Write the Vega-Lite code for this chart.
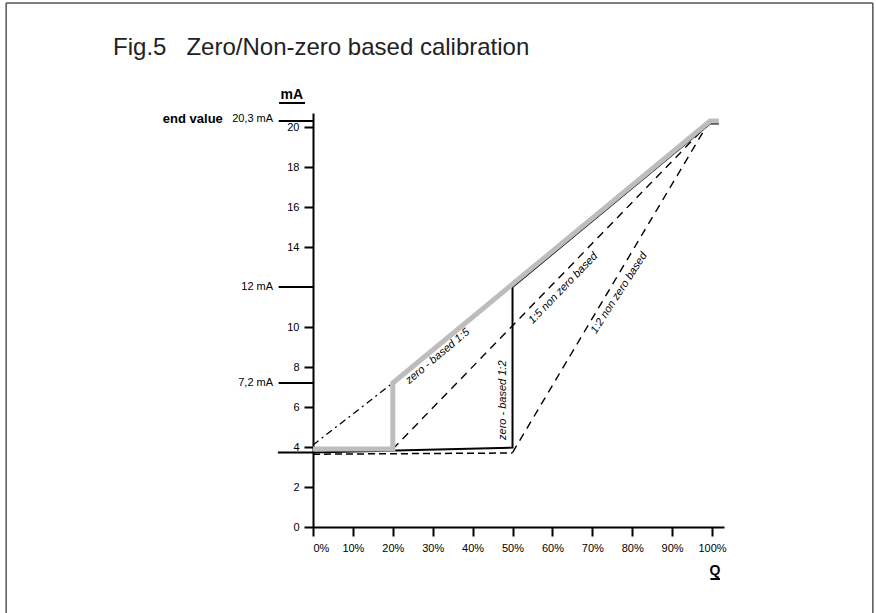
{
  "$schema": "https://vega.github.io/schema/vega-lite/v6.json",
  "width": 411,
  "height": 414,
  "autosize": {"type": "none"},
  "padding": {"left": 313, "top": 113, "right": 152, "bottom": 86},
  "background": "white",
  "config": {
    "view": {"stroke": null},
    "font": "Liberation Sans",
    "axis": {"grid": false, "domainColor": "black", "domainWidth": 2, "tickColor": "black", "tickWidth": 2, "tickSize": 9, "labelColor": "black", "labelFontSize": 11, "labelFont": "Liberation Sans", "title": null}
  },
  "datasets": {
    "lines": [
      {"series": "gray", "o": 1, "x": 0, "y": 3.9},
      {"series": "gray", "o": 2, "x": 20, "y": 3.9},
      {"series": "gray", "o": 3, "x": 20, "y": 7.2},
      {"series": "gray", "o": 4, "x": 99.5, "y": 20.3},
      {"series": "gray", "o": 5, "x": 101.7, "y": 20.3},
      {"series": "black", "o": 1, "x": -8.8, "y": 3.72},
      {"series": "black", "o": 2, "x": 0, "y": 3.72},
      {"series": "black", "o": 3, "x": 50, "y": 3.97},
      {"series": "black", "o": 4, "x": 50, "y": 12},
      {"series": "black", "o": 5, "x": 99.5, "y": 20.18},
      {"series": "black", "o": 6, "x": 101.7, "y": 20.18},
      {"series": "dashdot", "o": 1, "x": 0, "y": 4.1},
      {"series": "dashdot", "o": 2, "x": 20, "y": 7.2},
      {"series": "dash15", "o": 1, "x": 20, "y": 3.9},
      {"series": "dash15", "o": 2, "x": 98.8, "y": 20.1},
      {"series": "dash12", "o": 1, "x": 50, "y": 3.72},
      {"series": "dash12", "o": 2, "x": 98.8, "y": 20.1},
      {"series": "dashbase", "o": 1, "x": 0, "y": 3.64},
      {"series": "dashbase", "o": 2, "x": 50, "y": 3.7}
    ],
    "refs": [
      {"x": -8.6, "x2": 0, "y": 20.3},
      {"x": -8.6, "x2": 0, "y": 12},
      {"x": -8.6, "x2": 0, "y": 7.2},
      {"x": -8.5, "x2": -2.0, "y": 21.2},
      {"x": 99.6, "x2": 102.0, "y": -2.6}
    ],
    "frameH": [
      {"x": -76.9, "x2": 140.3, "y": 26.2}
    ],
    "frameV": [
      {"x": -76.9, "y": 26.2, "y2": -5},
      {"x": 140.3, "y": 26.2, "y2": -5}
    ],
    "ylabels": [
      {"label": "20,3 mA", "x": -10, "y": 20.4},
      {"label": "12 mA", "x": -10, "y": 12},
      {"label": "7,2 mA", "x": -10, "y": 7.2}
    ],
    "bold": [
      {"label": "end value", "x": -22.6, "y": 20.4},
      {"label": "mA", "x": -5.3, "y": 21.6},
      {"label": "Q", "x": 100.75, "y": -2.2}
    ],
    "title": [
      {"label": "Fig.5\u00a0\u00a0\u00a0Zero/Non-zero based calibration", "x": -50.1, "y": 23.6}
    ],
    "ann320": [{"label": "zero - based 1:5", "x": 31.25, "y": 8.53}],
    "ann270": [{"label": "zero - based 1:2", "x": 47.6, "y": 6.34}],
    "ann314": [{"label": "1:5 non zero based", "x": 62.7, "y": 11.93}],
    "ann303": [{"label": "1:2 non zero based", "x": 76.7, "y": 11.7}]
  },
  "layer": [
    {
      "data": {"name": "frameH"},
      "mark": {"type": "rule", "color": "#555", "strokeWidth": 1.5},
      "encoding": {
        "x": {"field": "x", "type": "quantitative", "scale": {"domain": [0, 103], "nice": false, "zero": false}, "axis": {"values": [0, 10, 20, 30, 40, 50, 60, 70, 80, 90, 100], "labelExpr": "datum.value + '%'", "labelPadding": 6}},
        "x2": {"field": "x2"},
        "y": {"field": "y", "type": "quantitative", "scale": {"domain": [0, 20.7], "nice": false, "zero": false}, "axis": {"values": [0, 2, 4, 6, 8, 10, 14, 16, 18, 20], "labelPadding": 5}}
      }
    },
    {
      "data": {"name": "frameV"},
      "mark": {"type": "rule", "color": "#555", "strokeWidth": 1.5},
      "encoding": {
        "x": {"field": "x", "type": "quantitative"},
        "y": {"field": "y", "type": "quantitative"},
        "y2": {"field": "y2"}
      }
    },
    {
      "data": {"name": "lines"},
      "transform": [{"filter": "datum.series === 'dashbase'"}],
      "mark": {"type": "line", "color": "black", "strokeWidth": 1.5, "strokeDash": [7, 4]},
      "encoding": {"x": {"field": "x", "type": "quantitative"}, "y": {"field": "y", "type": "quantitative"}, "order": {"field": "o"}}
    },
    {
      "data": {"name": "lines"},
      "transform": [{"filter": "datum.series === 'dash15' || datum.series === 'dash12'"}],
      "mark": {"type": "line", "color": "black", "strokeWidth": 1.4, "strokeDash": [8, 6]},
      "encoding": {"x": {"field": "x", "type": "quantitative"}, "y": {"field": "y", "type": "quantitative"}, "detail": {"field": "series"}, "order": {"field": "o"}}
    },
    {
      "data": {"name": "lines"},
      "transform": [{"filter": "datum.series === 'dashdot'"}],
      "mark": {"type": "line", "color": "black", "strokeWidth": 1.3, "strokeDash": [7, 4, 2, 4]},
      "encoding": {"x": {"field": "x", "type": "quantitative"}, "y": {"field": "y", "type": "quantitative"}, "order": {"field": "o"}}
    },
    {
      "data": {"name": "lines"},
      "transform": [{"filter": "datum.series === 'black'"}],
      "mark": {"type": "line", "color": "black", "strokeWidth": 2},
      "encoding": {"x": {"field": "x", "type": "quantitative"}, "y": {"field": "y", "type": "quantitative"}, "order": {"field": "o"}}
    },
    {
      "data": {"name": "lines"},
      "transform": [{"filter": "datum.series === 'gray'"}],
      "mark": {"type": "line", "color": "#bdbdbd", "strokeWidth": 5},
      "encoding": {"x": {"field": "x", "type": "quantitative"}, "y": {"field": "y", "type": "quantitative"}, "order": {"field": "o"}}
    },
    {
      "data": {"name": "refs"},
      "mark": {"type": "rule", "color": "black", "strokeWidth": 2},
      "encoding": {"x": {"field": "x", "type": "quantitative"}, "x2": {"field": "x2"}, "y": {"field": "y", "type": "quantitative"}}
    },
    {
      "data": {"name": "ylabels"},
      "mark": {"type": "text", "align": "right", "baseline": "middle", "fontSize": 11, "color": "black"},
      "encoding": {"x": {"field": "x", "type": "quantitative"}, "y": {"field": "y", "type": "quantitative"}, "text": {"field": "label"}}
    },
    {
      "data": {"name": "bold"},
      "transform": [{"filter": "datum.label === 'end value'"}],
      "mark": {"type": "text", "align": "right", "baseline": "middle", "fontSize": 13, "fontWeight": "bold", "color": "black"},
      "encoding": {"x": {"field": "x", "type": "quantitative"}, "y": {"field": "y", "type": "quantitative"}, "text": {"field": "label"}}
    },
    {
      "data": {"name": "bold"},
      "transform": [{"filter": "datum.label !== 'end value'"}],
      "mark": {"type": "text", "align": "center", "baseline": "middle", "fontSize": 14, "fontWeight": "bold", "color": "black"},
      "encoding": {"x": {"field": "x", "type": "quantitative"}, "y": {"field": "y", "type": "quantitative"}, "text": {"field": "label"}}
    },
    {
      "data": {"name": "title"},
      "mark": {"type": "text", "align": "left", "baseline": "alphabetic", "fontSize": 24, "color": "#222"},
      "encoding": {"x": {"field": "x", "type": "quantitative"}, "y": {"field": "y", "type": "quantitative"}, "text": {"field": "label"}}
    },
    {
      "data": {"name": "ann320"},
      "mark": {"type": "text", "align": "center", "baseline": "middle", "fontSize": 11, "fontStyle": "italic", "angle": 320, "color": "black"},
      "encoding": {"x": {"field": "x", "type": "quantitative"}, "y": {"field": "y", "type": "quantitative"}, "text": {"field": "label"}}
    },
    {
      "data": {"name": "ann270"},
      "mark": {"type": "text", "align": "center", "baseline": "middle", "fontSize": 11, "fontStyle": "italic", "angle": 270, "color": "black"},
      "encoding": {"x": {"field": "x", "type": "quantitative"}, "y": {"field": "y", "type": "quantitative"}, "text": {"field": "label"}}
    },
    {
      "data": {"name": "ann314"},
      "mark": {"type": "text", "align": "center", "baseline": "middle", "fontSize": 11, "fontStyle": "italic", "angle": 314, "color": "black"},
      "encoding": {"x": {"field": "x", "type": "quantitative"}, "y": {"field": "y", "type": "quantitative"}, "text": {"field": "label"}}
    },
    {
      "data": {"name": "ann303"},
      "mark": {"type": "text", "align": "center", "baseline": "middle", "fontSize": 11, "fontStyle": "italic", "angle": 303, "color": "black"},
      "encoding": {"x": {"field": "x", "type": "quantitative"}, "y": {"field": "y", "type": "quantitative"}, "text": {"field": "label"}}
    }
  ]
}
